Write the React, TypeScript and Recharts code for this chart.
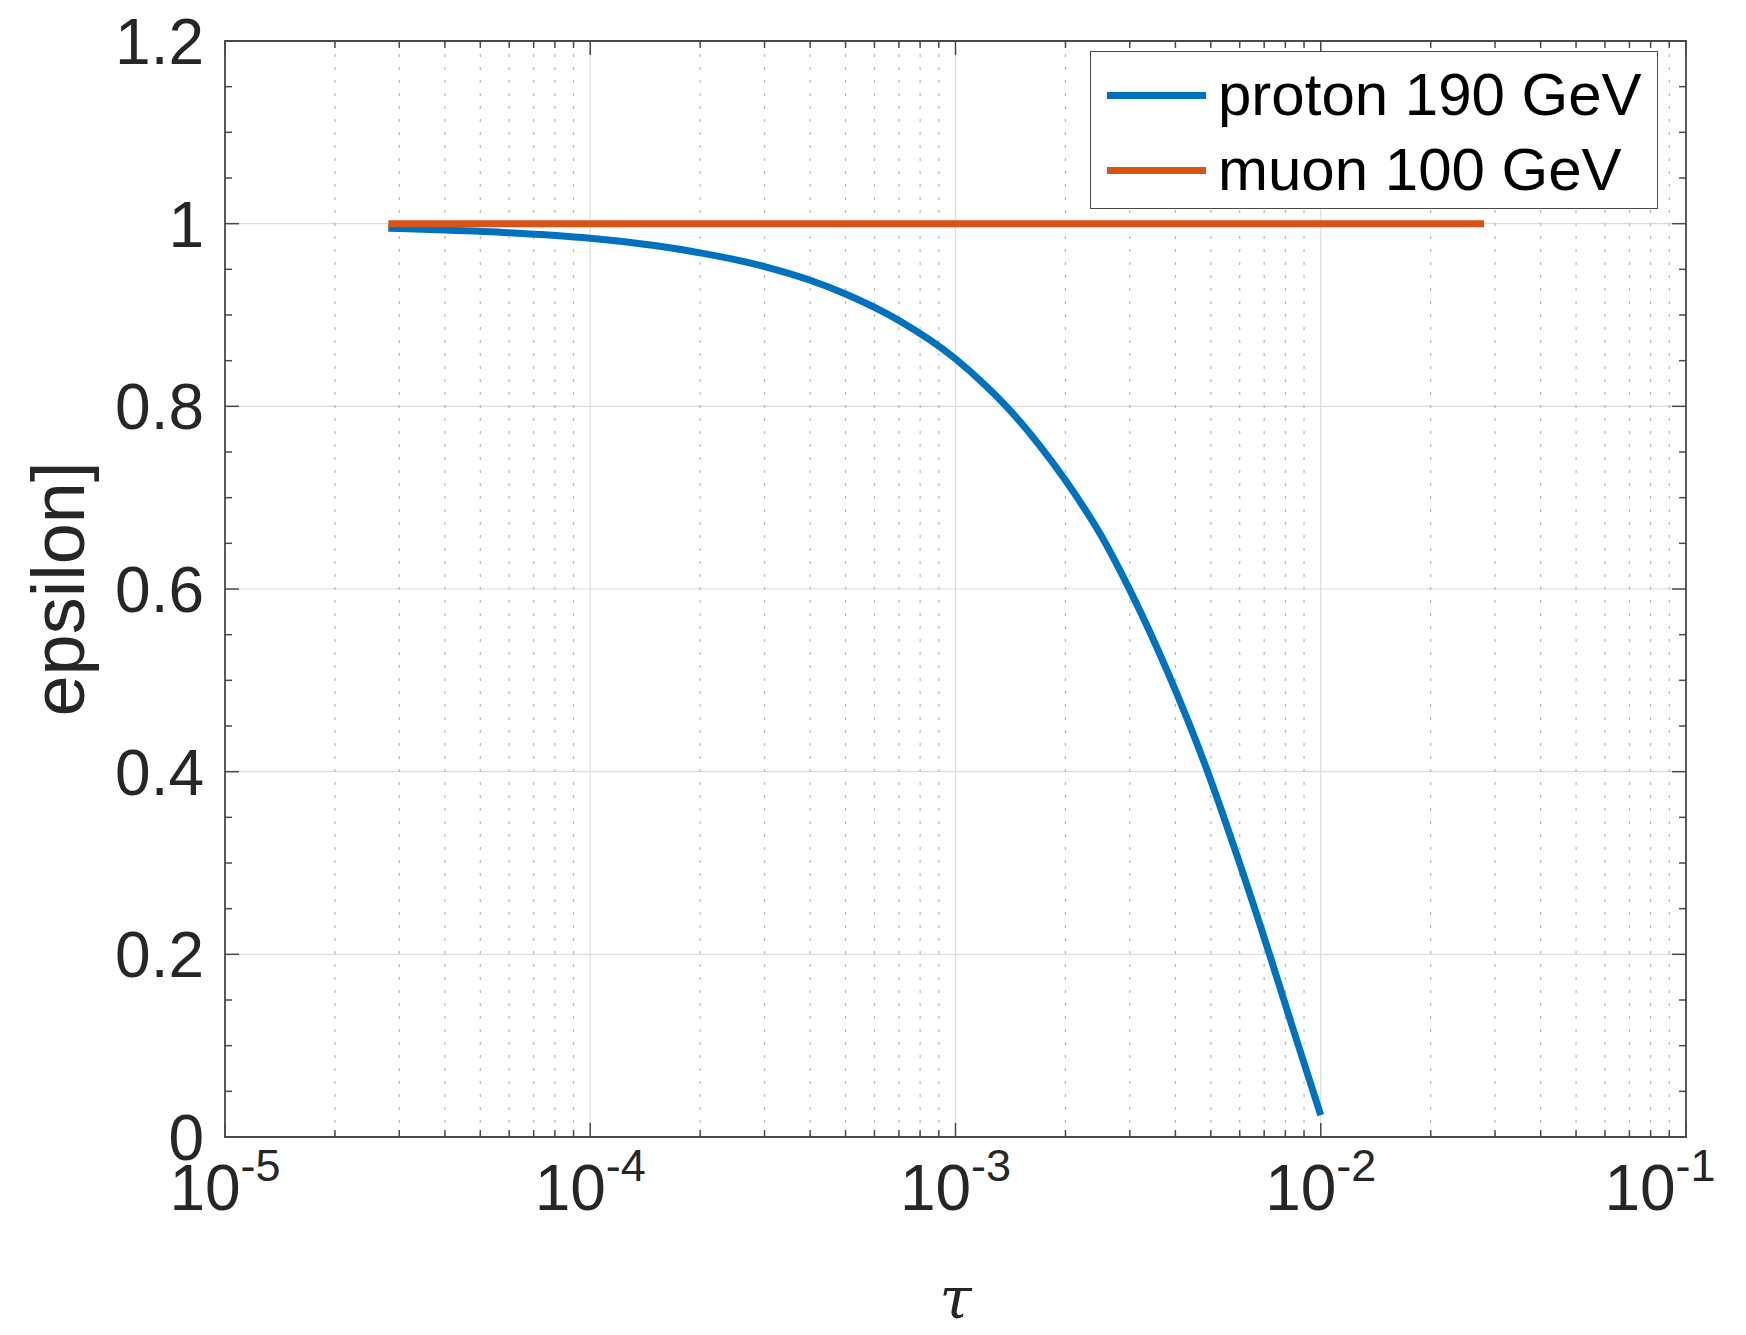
import React from 'react';
import {
  LineChart, Line, XAxis, YAxis, CartesianGrid, ReferenceArea, Legend, Label,
} from 'recharts';

// proton 190 GeV
const protonTau = [
  2.8e-5, 4e-5, 6e-5, 1e-4, 1.5e-4, 2e-4, 3e-4, 4e-4, 5e-4, 7e-4, 1e-3, 1.2e-3,
  1.4e-3, 1.7e-3, 2e-3, 2.5e-3, 3e-3, 3.8e-3, 4.87e-3, 5.9e-3, 7.2e-3, 8.34e-3, 1e-2,
];
const protonEps = [
  0.995, 0.993, 0.99, 0.984, 0.976, 0.968, 0.953, 0.938, 0.923, 0.894, 0.852, 0.824,
  0.797, 0.757, 0.719, 0.659, 0.599, 0.51, 0.403, 0.308, 0.203, 0.122, 0.024,
];

// muon 100 GeV, flat
const muonTau = [2.8e-5, 2.8e-2];
const muonEps = [1, 1];

const seriesNames = ['proton 190 GeV', 'muon 100 GeV'];

const xMajor = [1e-5, 1e-4, 1e-3, 1e-2, 1e-1];
const xMinor = [
  2e-5, 3e-5, 4e-5, 5e-5, 6e-5, 7e-5, 8e-5, 9e-5,
  2e-4, 3e-4, 4e-4, 5e-4, 6e-4, 7e-4, 8e-4, 9e-4,
  2e-3, 3e-3, 4e-3, 5e-3, 6e-3, 7e-3, 8e-3, 9e-3,
  2e-2, 3e-2, 4e-2, 5e-2, 6e-2, 7e-2, 8e-2, 9e-2,
];
const yMajor = [0, 0.2, 0.4, 0.6, 0.8, 1, 1.2];
const yMinor = [
  0.05, 0.1, 0.15, 0.25, 0.3, 0.35, 0.45, 0.5, 0.55, 0.65, 0.7, 0.75,
  0.85, 0.9, 0.95, 1.05, 1.1, 1.15,
];
const yLabels = ['0', '0.2', '0.4', '0.6', '0.8', '1', '1.2'];

const protonData = protonTau.map((t, i) => ({ tau: t, eps: protonEps[i] }));
const muonData = muonTau.map((t, i) => ({ tau: t, eps: muonEps[i] }));

const W = 1746;
const H = 1335;
const PLOT_TOP = 41;
const Y_AXIS_W = 225;
const X_AXIS_H = 198;
const RIGHT = 60;
const PLOT_RIGHT = W - RIGHT;

const FONT = '"Liberation Sans", Arial, Helvetica, sans-serif';
const TEXT = '#262626';
const AXIS = '#4a4a4a';

const XTick = (props: any) => {
  const { x, y, payload } = props;
  const v = payload.value;
  const major = xMajor.includes(v);
  const len = major ? 14 : 7;
  const exp = Math.round(Math.log10(v));
  const shift = v === 1e-1 ? -26 : 0;
  return (
    <g>
      <line x1={x} y1={y} x2={x} y2={y - len} stroke={AXIS} strokeWidth={1.5} />
      <line x1={x} y1={PLOT_TOP} x2={x} y2={PLOT_TOP + len} stroke={AXIS} strokeWidth={1.5} />
      {major && (
        <text x={x + shift} y={y + 73} textAnchor="middle" fontFamily={FONT} fontSize={64} fill={TEXT}>
          10<tspan dy={-29} fontSize={45}>{String(exp)}</tspan>
        </text>
      )}
    </g>
  );
};

const YTick = (props: any) => {
  const { x, y, payload } = props;
  const v = payload.value;
  const idx = yMajor.indexOf(v);
  const major = idx >= 0;
  const len = major ? 14 : 7;
  return (
    <g>
      <line x1={x} y1={y} x2={x + len} y2={y} stroke={AXIS} strokeWidth={1.5} />
      <line x1={PLOT_RIGHT} y1={y} x2={PLOT_RIGHT - len} y2={y} stroke={AXIS} strokeWidth={1.5} />
      {major && (
        <text x={x - 21} y={y + 23} textAnchor="end" fontFamily={FONT} fontSize={64} fill={TEXT}>
          {yLabels[idx]}
        </text>
      )}
    </g>
  );
};

const XLabel = (props: any) => {
  const vb = props.viewBox || { x: Y_AXIS_W, y: H - X_AXIS_H, width: PLOT_RIGHT - Y_AXIS_W };
  return (
    <text
      x={vb.x + vb.width / 2}
      y={vb.y + 181}
      textAnchor="middle"
      fontFamily='"DejaVu Serif", "Liberation Serif", serif'
      fontStyle="italic"
      fontSize={58}
      fill={TEXT}
    >
      τ
    </text>
  );
};

const YLabel = (props: any) => {
  const vb = props.viewBox || { x: 0, y: PLOT_TOP, height: H - X_AXIS_H - PLOT_TOP };
  const cx = 84;
  const cy = vb.y + vb.height / 2;
  return (
    <text
      x={cx}
      y={cy}
      transform={`rotate(-90, ${cx}, ${cy})`}
      textAnchor="middle"
      fontFamily={FONT}
      fontSize={74}
      fill={TEXT}
    >
      epsilon]
    </text>
  );
};

const LegendBox = (props: any) => {
  const payload = [...(props.payload || [])].sort(
    (a: any, b: any) => seriesNames.indexOf(a.value) - seriesNames.indexOf(b.value),
  );
  return (
    <div
      style={{
        width: 568, height: 158, boxSizing: 'border-box', border: `1.5px solid ${AXIS}`,
        background: '#fff', position: 'relative',
      }}
    >
      {payload.map((entry: any, i: number) => (
        <div
          key={i}
          style={{
            position: 'absolute', left: 0, top: 6 + i * 75, height: 74,
            display: 'flex', alignItems: 'center',
          }}
        >
          <div style={{ marginLeft: 16, width: 99, height: 7, background: entry.color }} />
          <span style={{ marginLeft: 12, fontSize: 60, fontFamily: FONT, color: '#000', lineHeight: 1, whiteSpace: 'nowrap' }}>
            {entry.value}
          </span>
        </div>
      ))}
    </div>
  );
};

export default function App() {
  return (
    <div style={{ position: 'absolute', left: 0, top: 0, background: '#fff' }}>
      <LineChart width={W} height={H} margin={{ top: PLOT_TOP, right: RIGHT, left: 0, bottom: 0 }}>
        <CartesianGrid verticalValues={xMajor} horizontalValues={yMajor} stroke="#dcdcdc" strokeWidth={1.2} />
        <CartesianGrid verticalValues={xMinor} horizontal={false} stroke="#b5b5b5" strokeWidth={1.2} strokeDasharray="3 10" />
        <XAxis
          dataKey="tau"
          type="number"
          scale="log"
          domain={[1e-5, 1e-1]}
          allowDataOverflow
          ticks={[...xMajor, ...xMinor]}
          interval={0}
          height={X_AXIS_H}
          axisLine={false}
          tickLine={false}
          tickSize={0}
          tickMargin={0}
          tick={<XTick />}
        >
          <Label content={<XLabel />} />
        </XAxis>
        <YAxis
          type="number"
          domain={[0, 1.2]}
          allowDataOverflow
          ticks={[...yMajor, ...yMinor]}
          interval={0}
          width={Y_AXIS_W}
          axisLine={false}
          tickLine={false}
          tickSize={0}
          tickMargin={0}
          tick={<YTick />}
        >
          <Label content={<YLabel />} />
        </YAxis>
        <ReferenceArea x1={1e-5} x2={1e-1} y1={0} y2={1.2} fill="none" stroke={AXIS} strokeWidth={1.8} ifOverflow="visible" />
        <Line
          data={protonData}
          dataKey="eps"
          type="monotone"
          name={seriesNames[0]}
          stroke="#0072BD"
          strokeWidth={7}
          dot={false}
          activeDot={false}
          isAnimationActive={false}
        />
        <Line
          data={muonData}
          dataKey="eps"
          type="linear"
          name={seriesNames[1]}
          stroke="#D95319"
          strokeWidth={7}
          dot={false}
          activeDot={false}
          isAnimationActive={false}
        />
        <Legend
          layout="horizontal"
          verticalAlign="middle"
          align="center"
          content={<LegendBox />}
          wrapperStyle={{ left: 1090, top: 51, width: 568, height: 158 }}
        />
      </LineChart>
    </div>
  );
}
